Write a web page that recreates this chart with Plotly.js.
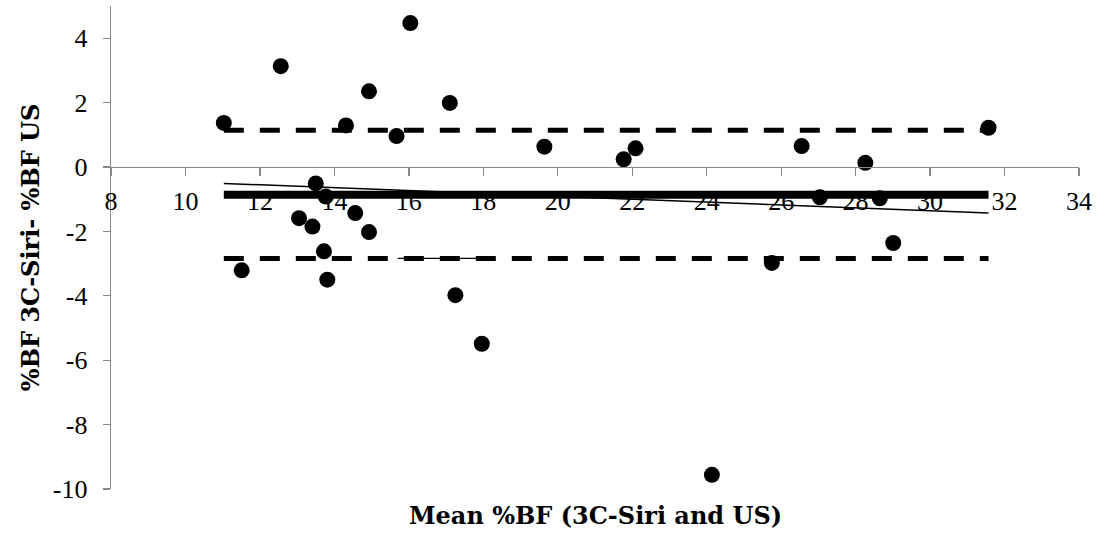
<!DOCTYPE html>
<html>
<head>
<meta charset="utf-8">
<script src="https://cdn.plot.ly/plotly-3.0.1.min.js"></script>
<style>html,body{margin:0;padding:0;background:#fff;}#chart{width:1100px;height:535px;}</style>
</head>
<body>
<div id="chart"></div>
<script>
// Mean %BF of both methods (x) and difference 3C-Siri minus US (y)
const meanBF = [11.03, 12.56, 16.04, 14.93, 17.10, 14.31, 15.67, 13.50, 13.77, 13.05,
                13.41, 14.56, 14.93, 13.72, 11.51, 13.81, 17.25, 17.96, 24.14, 19.64,
                21.77, 22.09, 26.55, 28.26, 27.04, 28.65, 29.01, 25.75, 31.57];
const diffBF = [1.37, 3.13, 4.47, 2.35, 1.99, 1.29, 0.96, -0.51, -0.92, -1.59,
                -1.85, -1.43, -2.02, -2.62, -3.21, -3.50, -3.98, -5.49, -9.56, 0.63,
                0.24, 0.58, 0.65, 0.13, -0.94, -0.97, -2.36, -2.98, 1.22];
const meanBias = -0.86;
const upperLoA = 1.14;
const lowerLoA = -2.84;
const regressionY = [-0.51, -1.43];      // trend line at min / max x
const strayX = [15.7, 18.0];             // short thin segment on lower limit line

const xTickVals = [8, 10, 12, 14, 16, 18, 20, 22, 24, 26, 28, 30, 32, 34];
const yTickVals = [-10, -8, -6, -4, -2, 0, 2, 4];

const xMin = Math.min(...meanBF), xMax = Math.max(...meanBF);
const lineX = [xMin, xMax];
const TICKFONT = 'Liberation Serif, DejaVu Serif, serif';
const TITLEFONT = 'DejaVu Serif, Liberation Serif, serif';

const traces = [
  {x: meanBF, y: diffBF, type: 'scatter', mode: 'markers',
   marker: {color: '#000', size: 16}, hoverinfo: 'x+y'},
  {x: lineX, y: [upperLoA, upperLoA], type: 'scatter', mode: 'lines',
   line: {color: '#000', width: 5, dash: '20px,16px'}},
  {x: lineX, y: [lowerLoA, lowerLoA], type: 'scatter', mode: 'lines',
   line: {color: '#000', width: 5, dash: '20px,16px'}},
  {x: strayX, y: [lowerLoA, lowerLoA], type: 'scatter', mode: 'lines',
   line: {color: '#000', width: 1.3}},
  {x: lineX, y: [meanBias, meanBias], type: 'scatter', mode: 'lines',
   line: {color: '#000', width: 8}},
  {x: lineX, y: regressionY, type: 'scatter', mode: 'lines',
   line: {color: '#000', width: 1.5}}
];

const layout = {
  width: 1100, height: 535,
  margin: {l: 111, r: 21, t: 6, b: 46},
  paper_bgcolor: '#fff', plot_bgcolor: '#fff',
  showlegend: false,
  font: {family: TICKFONT, color: '#000'},
  xaxis: {
    range: [8, 34], tickvals: xTickVals, ticktext: xTickVals.map(String),
    showgrid: false, zeroline: false, showline: true,
    linecolor: '#888', linewidth: 1.3,
    ticks: 'outside', ticklen: 8, tickcolor: '#888', tickwidth: 1.3,
    anchor: 'free', position: 10 / 15,
    tickfont: {family: TICKFONT, size: 26, color: '#000'},
    ticklabelstandoff: 2
  },
  yaxis: {
    range: [-10, 5], tickvals: yTickVals, ticktext: yTickVals.map(String),
    showgrid: false, zeroline: false, showline: true,
    linecolor: '#888', linewidth: 1.3,
    ticks: 'outside', ticklen: 7, tickcolor: '#888', tickwidth: 1.3,
    tickfont: {family: TICKFONT, size: 26, color: '#000'},
    ticklabelstandoff: 10
  },
  annotations: [
    {text: '<b>Mean %BF (3C-Siri and US)</b>', xref: 'paper', yref: 'paper',
     x: 0.5, y: -0.054, xanchor: 'center', yanchor: 'middle', showarrow: false,
     font: {family: TITLEFONT, size: 24, color: '#000'}},
    {text: '<b>%BF 3C-Siri- %BF US</b>', xref: 'paper', yref: 'paper',
     x: -0.083, y: 0.5, xanchor: 'center', yanchor: 'middle', showarrow: false,
     textangle: -90, font: {family: TITLEFONT, size: 24, color: '#000'}}
  ]
};

Plotly.newPlot('chart', traces, layout, {displayModeBar: false, staticPlot: true});
</script>
</body>
</html>
